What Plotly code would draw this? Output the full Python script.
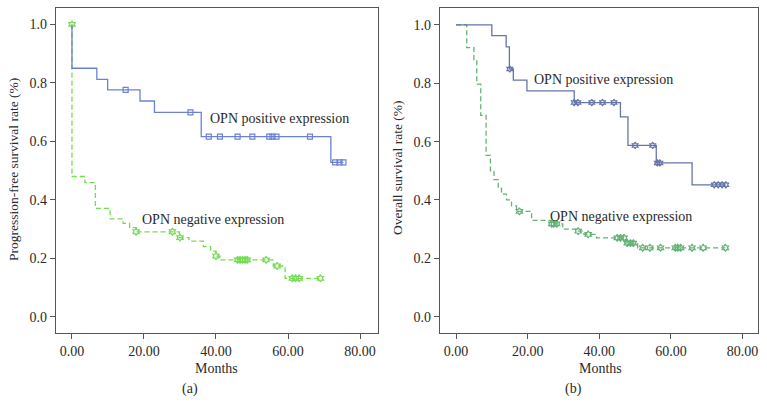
import plotly.graph_objects as go

# ---------------- data ----------------
# Panel (a): progression-free survival
pos_a_t = [0, 0, 6.9, 9.9, 18.9, 22.9, 35.9, 71.9, 75.4]
pos_a_s = [1.0, 0.85, 0.812, 0.776, 0.738, 0.699, 0.616, 0.528, 0.528]
pos_a_ct = [14.9, 32.9, 38.0, 41.1, 46.0, 50.1, 54.8, 55.7, 56.8, 66.1, 73.1, 74.3, 75.4]
pos_a_cs = [0.776, 0.699, 0.616, 0.616, 0.616, 0.616, 0.616, 0.616, 0.616, 0.616, 0.528, 0.528, 0.528]

neg_a_t = [0, 0, 3.6, 6.5, 10.6, 14.2, 16.0, 17.8, 29.8, 32.5, 36.5, 38.5, 40.0, 41.1, 55.9, 59.2, 69.0]
neg_a_s = [1.0, 0.48, 0.459, 0.371, 0.335, 0.32, 0.305, 0.291, 0.271, 0.259, 0.24, 0.225, 0.208, 0.195, 0.174, 0.132, 0.132]
neg_a_ct = [0, 17.8, 27.9, 30.0, 40.0, 46.0, 46.7, 47.4, 48.1, 48.7, 53.9, 57.0, 61.2, 62.1, 63.1, 69.0]
neg_a_cs = [1.0, 0.291, 0.291, 0.271, 0.208, 0.195, 0.195, 0.195, 0.195, 0.195, 0.195, 0.174, 0.132, 0.132, 0.132, 0.132]

# Panel (b): overall survival
pos_b_t = [0, 10.0, 14.0, 14.9, 16.0, 19.8, 33.0, 45.9, 48.0, 55.9, 65.9, 75.3]
pos_b_s = [1.0, 0.963, 0.925, 0.849, 0.811, 0.774, 0.734, 0.685, 0.587, 0.527, 0.452, 0.452]
pos_b_ct = [15.0, 33.0, 34.0, 37.9, 40.9, 44.1, 50.0, 54.9, 56.2, 56.9, 72.1, 73.2, 74.3, 75.3]
pos_b_cs = [0.849, 0.734, 0.734, 0.734, 0.734, 0.734, 0.587, 0.587, 0.527, 0.527, 0.452, 0.452, 0.452, 0.452]

neg_b_t = [0, 3.0, 5.0, 5.8, 6.9, 8.4, 9.6, 10.6, 11.8, 12.7, 14.1, 15.5, 16.9, 21.1, 26.5, 29.8, 33.5, 35.7, 39.2, 47.4, 50.7, 75.2]
neg_b_s = [1.0, 0.922, 0.88, 0.797, 0.69, 0.553, 0.50, 0.47, 0.44, 0.42, 0.40, 0.38, 0.361, 0.33, 0.318, 0.30, 0.293, 0.282, 0.27, 0.252, 0.236, 0.236]
neg_b_ct = [17.7, 26.7, 27.3, 28.1, 34.1, 36.9, 45.0, 45.9, 46.9, 47.8, 48.7, 49.5, 52.1, 54.1, 57.1, 61.2, 61.9, 62.7, 65.9, 69.0, 75.2]
neg_b_cs = [0.361, 0.318, 0.318, 0.318, 0.293, 0.282, 0.27, 0.27, 0.27, 0.252, 0.252, 0.252,
            0.236, 0.236, 0.236, 0.236, 0.236, 0.236, 0.236, 0.236, 0.236]

x_tickvals = [0, 20, 40, 60, 80]
x_ticktext = ["0.00", "20.00", "40.00", "60.00", "80.00"]
y_tickvals = [0.0, 0.2, 0.4, 0.6, 0.8, 1.0]
y_ticktext = ["0.0", "0.2", "0.4", "0.6", "0.8", "1.0"]

# ---------------- styles ----------------
W, H = 767, 404
FONT = "Liberation Serif"
TXT = "#2a2a2a"
BLUE_A, GREEN_A = "#6a82d4", "#74dc52"
BLUE_B, GREEN_B = "#6674a8", "#62b274"

fig = go.Figure()


def add_panel(xa, ya, t_pos, s_pos, ct_pos, cs_pos, t_neg, s_neg, ct_neg, cs_neg, cpos, cneg, pos_sym):
    fig.add_trace(go.Scatter(x=t_neg, y=s_neg, mode="lines", line=dict(color=cneg, width=1.3, dash="5px,3px", shape="hv"),
                             xaxis=xa, yaxis=ya, showlegend=False, hoverinfo="skip"))
    fig.add_trace(go.Scatter(x=ct_neg, y=cs_neg, mode="markers",
                             marker=dict(symbol="hexagram-open", size=5.5, color=cneg, line=dict(width=1.2, color=cneg)),
                             xaxis=xa, yaxis=ya, showlegend=False))
    fig.add_trace(go.Scatter(x=t_pos, y=s_pos, mode="lines", line=dict(color=cpos, width=1.3, shape="hv"),
                             xaxis=xa, yaxis=ya, showlegend=False, hoverinfo="skip"))
    fig.add_trace(go.Scatter(x=ct_pos, y=cs_pos, mode="markers",
                             marker=dict(symbol=pos_sym, size=5, color=cpos, line=dict(width=1.2, color=cpos)),
                             xaxis=xa, yaxis=ya, showlegend=False))


add_panel("x", "y", pos_a_t, pos_a_s, pos_a_ct, pos_a_cs, neg_a_t, neg_a_s, neg_a_ct, neg_a_cs, BLUE_A, GREEN_A, "square-open")
add_panel("x2", "y2", pos_b_t, pos_b_s, pos_b_ct, pos_b_cs, neg_b_t, neg_b_s, neg_b_ct, neg_b_cs, BLUE_B, GREEN_B, "hexagram-open")

axis_common = dict(showgrid=False, zeroline=False, showline=True, mirror=True, linecolor="#555555", linewidth=1.2,
                   ticks="outside", ticklen=5, tickcolor="#555555", tickfont=dict(family=FONT, size=14, color=TXT))

fig.update_layout(
    width=W, height=H, margin=dict(l=0, r=0, t=0, b=0),
    paper_bgcolor="white", plot_bgcolor="white",
    xaxis=dict(domain=[56 / W, 378 / W], range=[-4.44, 85], tickvals=x_tickvals, ticktext=x_ticktext, anchor="y", **axis_common),
    yaxis=dict(domain=[1 - 333 / H, 1 - 8 / H], range=[-0.055, 1.056], tickvals=y_tickvals, ticktext=y_ticktext, anchor="x", **axis_common),
    xaxis2=dict(domain=[440 / W, 758 / W], range=[-4.47, 84.3], tickvals=x_tickvals, ticktext=x_ticktext, anchor="y2", **axis_common),
    yaxis2=dict(domain=[1 - 332.7 / H, 1 - 8.3 / H], range=[-0.055, 1.057], tickvals=y_tickvals, ticktext=y_ticktext, anchor="x2", **axis_common),
)


def ann(text, x, y, size=14, angle=0):
    fig.add_annotation(text=text, x=x / W, y=1 - y / H, xref="paper", yref="paper", showarrow=False,
                       xanchor="center", yanchor="middle", textangle=angle,
                       font=dict(family=FONT, size=size, color=TXT))


ann("OPN positive expression", 279, 118)
ann("OPN negative expression", 213, 219)
ann("OPN positive expression", 603, 80)
ann("OPN negative expression", 621, 216)
ann("Progression-free survival rate (%)", 14, 170, size=13.5, angle=-90)
ann("Overall survival rate (%)", 398, 168, size=13.5, angle=-90)
ann("Months", 216, 368)
ann("Months", 600, 368)
ann("(a)", 190, 389)
ann("(b)", 573, 389)

fig.write_html("out.html", config={"displayModeBar": False},
               post_script="document.body.style.margin='0px';document.body.style.overflow='hidden';")
